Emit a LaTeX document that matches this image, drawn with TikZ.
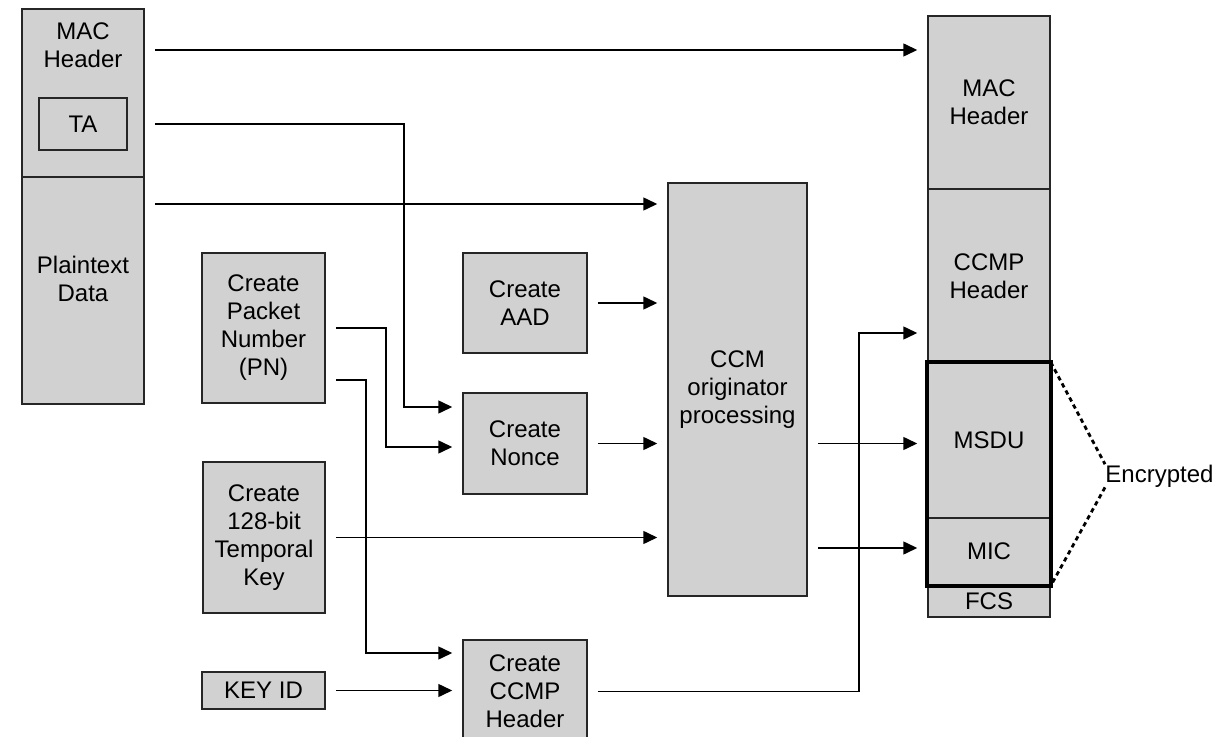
\documentclass[tikz,border=0pt]{standalone}
\usepackage{fontspec}
\setmainfont{Liberation Sans}
\usetikzlibrary{arrows.meta}
\definecolor{fieldgray}{RGB}{209,209,209}

\begin{document}
\begin{tikzpicture}
[x=0.5pt, y=-0.5pt,
field/.style={draw=black!85, line width=0.75pt, fill=fieldgray, align=center, inner sep=0pt, font=\fontsize{12}{14}\selectfont},
lbl/.style={align=center, font=\fontsize{12}{14}\selectfont},
flow/.style={line width=0.75pt, shorten <=5pt, shorten >=5pt, -{Triangle[length=7pt, width=6.5pt]}},
encl/.style={line width=1.4pt, dash pattern=on 2.2pt off 1.8pt}]
\useasboundingbox (0,0) rectangle (1214,737);
\node[field, minimum width=61pt, minimum height=84pt] (lhdr) at (83,93) {};
\node[lbl] (lhdrtxt) at (83,45) {MAC\\Header};
\node[field, minimum width=44pt, minimum height=26pt] (ta) at (83,124) {TA};
\node[field, minimum width=61pt, minimum height=113.5pt] (ldata) at (83,290.5) {};
\node[lbl] (ldatatxt) at (83,279) {Plaintext\\Data};
\node[field, minimum width=61.5pt, minimum height=75pt] (pn) at (263.5,328) {Create\\Packet\\Number\\(PN)};
\node[field, minimum width=61pt, minimum height=75.5pt] (tk) at (264,537.5) {Create\\128-bit\\Temporal\\Key};
\node[field, minimum width=61.5pt, minimum height=18.5pt] (keyid) at (263.5,690.5) {KEY ID};
\node[field, minimum width=62pt, minimum height=50pt] (aad) at (525,303) {Create\\AAD};
\node[field, minimum width=62pt, minimum height=50.5pt] (nonce) at (525,443.5) {Create\\Nonce};
\node[field, minimum width=62pt, minimum height=51.5pt] (mkccmp) at (525,691.5) {Create\\CCMP\\Header};
\node[field, minimum width=69.5pt, minimum height=206.5pt] (ccm) at (737.5,389.5) {CCM\\originator\\processing};
\node[field, minimum width=61pt, minimum height=86.5pt] (rhdr) at (989,102.5) {MAC\\Header};
\node[field, minimum width=61pt, minimum height=87pt] (rccmp) at (989,276) {CCMP\\Header};
\node[field, minimum width=61pt, minimum height=77.5pt] (msdu) at (989,440.5) {MSDU};
\node[field, minimum width=61pt, minimum height=33.5pt] (mic) at (989,551.5) {MIC};
\node[field, minimum width=61pt, minimum height=16pt] (fcs) at (989,601) {FCS};
\draw[line width=2pt] (msdu.north west) rectangle (mic.south east);
\node[lbl, anchor=base west, inner sep=0pt] (encr) at (1105,482) {Encrypted};
\draw[encl] (msdu.north east) -- (encr.north west);
\draw[encl] (encr.south west) -- (mic.south east);
\draw[flow] (lhdr.east |- 0,50) -- (rhdr.west |- 0,50);
\draw[flow] (ta -| lhdr.east) -| (404,407) -- (nonce.west |- 0,407);
\draw[flow] (ldata.east |- 0,204) -- (ccm.west |- 0,204);
\draw[flow] (pn.east) -| (386,447) -- (nonce.west |- 0,447);
\draw[flow] (pn.east |- 0,380) -| (366,653) -- (mkccmp.west |- 0,653);
\draw[flow] (aad) -- (aad -| ccm.west);
\draw[flow] (nonce) -- (nonce -| ccm.west);
\draw[flow] (tk) -- (tk -| ccm.west);
\draw[flow] (keyid) -- (keyid -| mkccmp.west);
\draw[flow] (ccm.east |- nonce) -- (msdu.west |- nonce);
\draw[flow] (ccm.east |- 0,548) -- (mic.west |- 0,548);
\draw[flow] (mkccmp.east) -| (859,333) -- (rccmp.west |- 0,333);
\end{tikzpicture}
\end{document}
